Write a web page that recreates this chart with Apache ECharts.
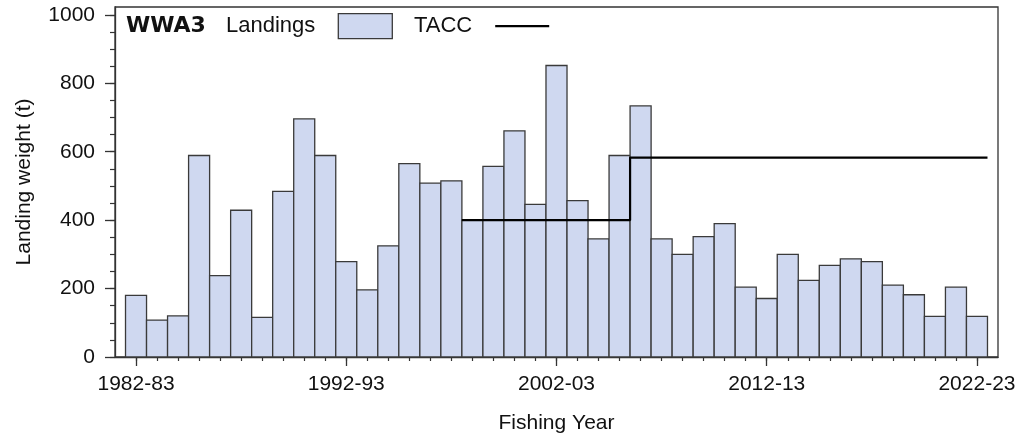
<!DOCTYPE html>
<html>
<head>
<meta charset="utf-8">
<script src="https://cdn.jsdelivr.net/npm/echarts@6/dist/echarts.min.js"></script>
<style>
  html, body { margin: 0; padding: 0; background: #ffffff; }
  #chart { width: 1024px; height: 441px; }
</style>
</head>
<body>
<div id="chart"></div>
<script>
// Fishing years (first calendar year of each 1 Oct – 30 Sep season)
const years = [
  1982, 1983, 1984, 1985, 1986, 1987, 1988, 1989, 1990, 1991,
  1992, 1993, 1994, 1995, 1996, 1997, 1998, 1999, 2000, 2001,
  2002, 2003, 2004, 2005, 2006, 2007, 2008, 2009, 2010, 2011,
  2012, 2013, 2014, 2015, 2016, 2017, 2018, 2019, 2020, 2021,
  2022
];

// Reported landings (t)
const landings = [
  180, 108, 120, 589, 238, 429, 116, 484, 696, 589,
  279, 196, 325, 565, 508, 515, 400, 557, 661, 446,
  852, 457, 345, 589, 734, 345, 300, 352, 390, 204,
  171, 300, 224, 268, 287, 279, 210, 182, 119, 204,
  119
];

// Total allowable commercial catch (t); null before the stock entered the QMS
const tacc = [
  null, null, null, null, null, null, null, null, null, null,
  null, null, null, null, null, null, 400, 400, 400, 400,
  400, 400, 400, 400, 583, 583, 583, 583, 583, 583,
  583, 583, 583, 583, 583, 583, 583, 583, 583, 583,
  583
];

// Labelled x ticks and their text
const xTickYears = [1982, 1992, 2002, 2012, 2022];
const xTickLabels = ['1982-83', '1992-93', '2002-03', '2012-13', '2022-23'];

// y ticks
const yMajorTicks = [0, 200, 400, 600, 800, 1000];
const yMinorTicks = [];
for (let v = 0; v <= 1000; v += 50) yMinorTicks.push(v);

const FONT = '"Liberation Sans", Arial, sans-serif';
const INK = '#111111';
const FRAME = '#333333';
const BAR_FILL = '#cfd8f0';
const BAR_EDGE = '#3a3a3a';

// Each landing is a one-year-wide bar centred on its fishing year
const barData = years.map((y, i) => [y, landings[i]]);

// TACC drawn as a stepped line spanning each year's full width
const taccLine = [];
years.forEach((y, i) => {
  if (tacc[i] != null) {
    taccLine.push([y - 0.5, tacc[i]]);
    taccLine.push([y + 0.5, tacc[i]]);
  }
});

const chart = echarts.init(document.getElementById('chart'), null, { renderer: 'canvas' });

const axisLine = { show: true, lineStyle: { color: FRAME, width: 1.3 } };

chart.setOption({
  backgroundColor: '#ffffff',
  animation: false,
  textStyle: { fontFamily: FONT, color: INK },
  grid: {
    left: 115, right: 26, top: 7, bottom: 84,
    show: true, borderColor: FRAME, borderWidth: 1.3, backgroundColor: 'transparent'
  },
  title: {
    text: 'WWA3',
    left: 126, top: 15,
    padding: 0,
    textStyle: { fontFamily: '"DejaVu Sans", sans-serif', fontSize: 22, fontWeight: 'bold', color: INK }
  },
  legend: {
    left: 226, top: 13, padding: 0,
    align: 'right',
    itemWidth: 54, itemHeight: 25, itemGap: 21,
    textStyle: { fontFamily: FONT, fontSize: 22, color: INK, padding: [0, 18, 0, 0] },
    data: [
      { name: 'Landings', icon: 'rect',
        itemStyle: { color: BAR_FILL, borderColor: BAR_EDGE, borderWidth: 1.3 } },
      { name: 'TACC', icon: 'path://M0,0 L54,0 L54,2.2 L0,2.2 Z',
        itemStyle: { color: '#000000', borderWidth: 0 } }
    ]
  },
  xAxis: [
    {
      // yearly minor ticks
      type: 'value', min: 1981, max: 2023,
      position: 'bottom',
      axisLine: axisLine,
      axisTick: { show: true, customValues: years, length: 4, lineStyle: { color: FRAME, width: 1.2 } },
      axisLabel: { show: false },
      splitLine: { show: false }
    },
    {
      // decade major ticks with labels
      type: 'value', min: 1981, max: 2023,
      position: 'bottom',
      name: 'Fishing Year', nameLocation: 'middle', nameGap: 56,
      nameTextStyle: { fontFamily: FONT, fontSize: 21, color: INK },
      axisLine: { show: false },
      axisTick: { show: true, customValues: xTickYears, length: 9, lineStyle: { color: FRAME, width: 1.3 } },
      axisLabel: {
        show: true, customValues: xTickYears, margin: 17,
        fontFamily: FONT, fontSize: 21, color: INK,
        formatter: v => xTickLabels[xTickYears.indexOf(v)]
      },
      splitLine: { show: false }
    }
  ],
  yAxis: [
    {
      // minor ticks every 50 t
      type: 'value', min: 0, max: 1023,
      position: 'left',
      axisLine: axisLine,
      axisTick: { show: true, customValues: yMinorTicks, length: 5, lineStyle: { color: FRAME, width: 1.2 } },
      axisLabel: { show: false },
      splitLine: { show: false }
    },
    {
      // labelled major ticks
      type: 'value', min: 0, max: 1023,
      position: 'left',
      name: 'Landing weight (t)', nameLocation: 'middle', nameGap: 80,
      nameTextStyle: { fontFamily: FONT, fontSize: 21, color: INK },
      axisLine: { show: false },
      axisTick: { show: true, customValues: yMajorTicks, length: 10, lineStyle: { color: FRAME, width: 1.3 } },
      axisLabel: {
        show: true, customValues: yMajorTicks, margin: 20,
        fontFamily: FONT, fontSize: 21, color: INK,
        formatter: v => String(v)
      },
      splitLine: { show: false }
    }
  ],
  series: [
    {
      name: 'Landings',
      type: 'custom',
      xAxisIndex: 0, yAxisIndex: 0,
      itemStyle: { color: BAR_FILL, borderColor: BAR_EDGE, borderWidth: 1.3 },
      encode: { x: 0, y: 1 },
      data: barData,
      renderItem: function (params, api) {
        const yr = api.value(0);
        const val = api.value(1);
        const p0 = api.coord([yr - 0.5, 0]);
        const p1 = api.coord([yr + 0.5, val]);
        return {
          type: 'rect',
          shape: { x: p0[0], y: p1[1], width: p1[0] - p0[0], height: p0[1] - p1[1] },
          style: { fill: BAR_FILL, stroke: BAR_EDGE, lineWidth: 1.3 }
        };
      },
      z: 2
    },
    {
      name: 'TACC',
      type: 'line',
      xAxisIndex: 0, yAxisIndex: 0,
      data: taccLine,
      symbol: 'none',
      showSymbol: false,
      lineStyle: { color: '#000000', width: 2.2 },
      itemStyle: { color: '#000000' },
      z: 3
    }
  ]
});
</script>
</body>
</html>
